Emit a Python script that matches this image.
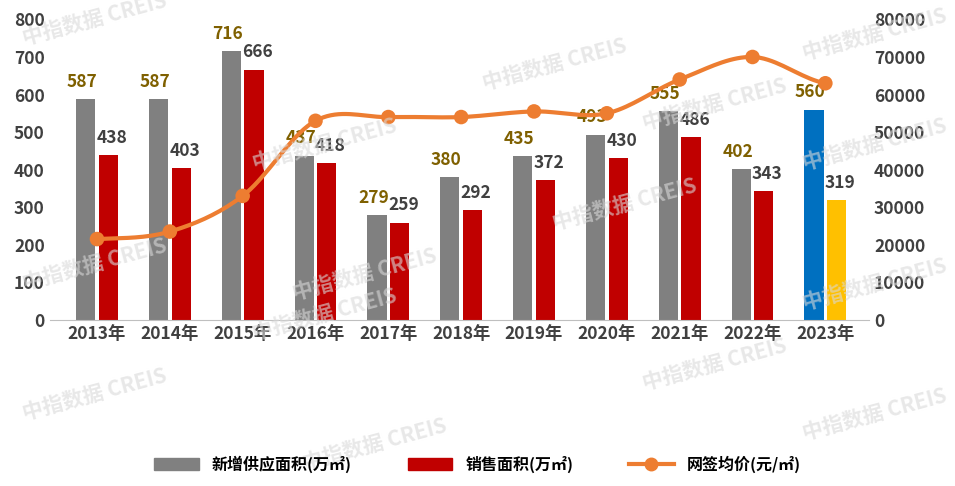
import numpy as np, pandas as pd, matplotlib
matplotlib.use("Agg")
import matplotlib.pyplot as plt, seaborn as sns
plt.rcParams['font.family'] = ['Noto Sans CJK SC']

years = ["2013年","2014年","2015年","2016年","2017年","2018年","2019年","2020年","2021年","2022年","2023年"]
supply = [587,587,716,437,279,380,435,493,555,402,560]
sales = [438,403,666,418,259,292,372,430,486,343,319]
price = [21500,23500,33000,53000,54000,54000,55500,55000,64000,70000,63000]

df = pd.DataFrame({"year": years*2, "v": supply+sales,
                   "s": ["新增供应面积(万㎡)"]*11 + ["销售面积(万㎡)"]*11})
fig = plt.figure(figsize=(9.55,4.86), dpi=100)
ax = fig.add_axes([0.052, 0.342, 0.858, 0.618])
sns.barplot(data=df, x="year", y="v", hue="s", palette=["#808080","#C00000"], saturation=1,
            width=0.62, gap=0.15, ax=ax, legend=False)
bars = ax.patches
bars[10].set_facecolor("#0070C0"); bars[21].set_facecolor("#FFC000")
for i in range(11):
    g, r = bars[i], bars[11+i]
    ax.text(g.get_x()+g.get_width()/2-0.05, supply[i]+22, str(supply[i]), ha="center", va="bottom",
            color="#7F6000", fontsize=12.5, fontweight="bold")
    ax.text(r.get_x()+r.get_width()/2+0.05, sales[i]+22, str(sales[i]), ha="center", va="bottom",
            color="#404040", fontsize=12.5, fontweight="bold")
ax.set_ylim(0,800); ax.set_yticks(range(0,801,100)); ax.set_xlim(-0.65,10.6)
ax.set_xlabel(""); ax.set_ylabel("")
ax.tick_params(axis="both", length=0, labelsize=12.5, colors="#404040")
for l in ax.get_xticklabels(): l.set_fontweight("bold")
for l in ax.get_yticklabels(): l.set_fontweight("bold")
for s in ["top","right","left"]: ax.spines[s].set_visible(False)
ax.spines["bottom"].set_color("#bfbfbf")

ax2 = ax.twinx()
x = np.arange(11); y = np.array(price, float)
xs, ys = [], []
P = np.concatenate([[y[0]], y, [y[-1]]])
for i in range(10):
    t = np.linspace(0,1,20)
    p0,p1,p2,p3 = P[i],P[i+1],P[i+2],P[i+3]
    ys.extend(0.5*((2*p1)+(-p0+p2)*t+(2*p0-5*p1+4*p2-p3)*t**2+(-p0+3*p1-3*p2+p3)*t**3))
    xs.extend(i+t)
ax2.plot(xs, ys, color="#ED7D31", lw=3)
sns.scatterplot(x=x, y=y, color="#ED7D31", s=110, ax=ax2, zorder=5, edgecolor="none")
ax2.set_ylim(0,80000); ax2.set_yticks(range(0,80001,10000))
ax2.tick_params(length=0, labelsize=12.5, colors="#404040")
for l in ax2.get_yticklabels(): l.set_fontweight("bold")
for s in ["top","right","left","bottom"]: ax2.spines[s].set_visible(False)

from matplotlib.patches import Patch
from matplotlib.lines import Line2D
h = [Patch(color="#808080"), Patch(color="#C00000"),
     Line2D([0],[0],color="#ED7D31",lw=3,marker="o",ms=9)]
fig.legend(h, ["新增供应面积(万㎡)","销售面积(万㎡)","网签均价(元/㎡)"], loc="center",
           bbox_to_anchor=(0.5,0.045), ncol=3, frameon=False,
           columnspacing=3.5, handlelength=2.8, prop={"weight":"bold","size":11.5})
for (px,py) in [(20,45),(290,300),(480,90),(640,130),(800,60),(20,290),(250,170),(550,230),(800,170),(20,420),(250,340),(640,390),(800,440),(300,470),(800,310)]:
    fig.text(px/955, 1-py/486, "中指数据 CREIS", color="#d9d9d9", fontsize=15, fontweight="bold",
             rotation=15, alpha=0.6, zorder=0)
fig.savefig("out.png", dpi=100)
